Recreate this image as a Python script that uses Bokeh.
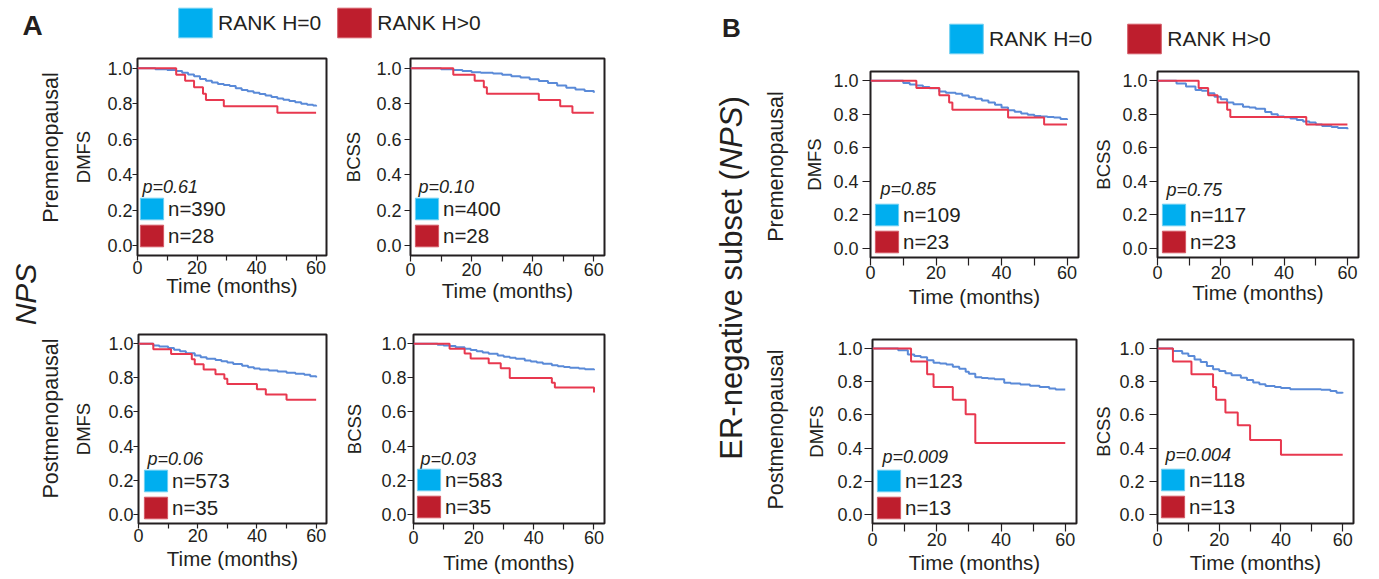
from math import pi
from bokeh.plotting import figure
from bokeh.models import (Range1d, FixedTicker, PrintfTickFormatter, Legend, LegendItem,
                          Label, ColumnDataSource)
from bokeh.layouts import row, column
from bokeh.embed import file_html
from bokeh.resources import INLINE

# ---------------- data ----------------
X_TICKS = [0, 20, 40, 60]
X_MINOR = [10, 30, 50]
Y_TICKS = [0.0, 0.2, 0.4, 0.6, 0.8, 1.0]
GROUPS = ["RANK H=0", "RANK H>0"]

# A: NPS, premenopausal, DMFS
A_PRE_DMFS_T0 = [0, 6, 10, 13, 15, 17, 19, 21, 23, 25, 27, 29, 31, 33, 35, 37, 39, 41, 43, 45, 47, 49, 51, 53, 55, 57, 59, 60]
A_PRE_DMFS_S0 = [1, .995, .99, .985, .975, .965, .955, .94, .93, .92, .912, .905, .9, .888, .878, .87, .862, .855, .846, .838, .83, .822, .815, .808, .8, .795, .79, .785]
A_PRE_DMFS_T1 = [0, 13, 16, 19, 22, 23, 29, 47, 60]
A_PRE_DMFS_S1 = [1, .964, .929, .893, .857, .821, .786, .75, .75]
# A: NPS, premenopausal, BCSS
A_PRE_BCSS_T0 = [0, 10, 14, 17, 20, 23, 27, 30, 33, 36, 39, 42, 45, 48, 51, 54, 57, 60]
A_PRE_BCSS_S0 = [1, .995, .99, .985, .978, .975, .97, .963, .955, .948, .938, .928, .917, .903, .89, .881, .872, .862]
A_PRE_BCSS_T1 = [0, 14, 21, 24, 25, 42, 49, 53, 60]
A_PRE_BCSS_S1 = [1, .964, .929, .893, .857, .821, .786, .75, .75]
# A: NPS, postmenopausal, DMFS
A_POST_DMFS_T0 = [0, 5, 7, 10, 12, 14, 16, 19, 21, 23, 26, 28, 30, 32, 35, 37, 39, 41, 44, 47, 50, 53, 56, 58, 60]
A_POST_DMFS_S0 = [1, .99, .985, .975, .965, .956, .945, .931, .922, .913, .905, .898, .89, .882, .872, .863, .856, .85, .844, .838, .83, .824, .818, .81, .802]
A_POST_DMFS_T1 = [0, 5, 11, 18, 19, 22, 26, 29, 30, 40, 43, 50, 60]
A_POST_DMFS_S1 = [1, .968, .94, .91, .88, .85, .822, .795, .764, .734, .702, .672, .672]
# A: NPS, postmenopausal, BCSS
A_POST_BCSS_T0 = [0, 8, 10, 12, 14, 17, 19, 21, 23, 25, 28, 30, 32, 34, 37, 39, 41, 43, 46, 48, 50, 52, 55, 57, 60]
A_POST_BCSS_S0 = [1, .995, .99, .988, .98, .972, .964, .956, .95, .942, .932, .925, .918, .912, .903, .896, .89, .883, .875, .869, .864, .86, .855, .851, .845]
A_POST_BCSS_T1 = [0, 12, 17, 19, 25, 29, 32, 46, 47, 60]
A_POST_BCSS_S1 = [1, .971, .943, .914, .886, .857, .8, .771, .743, .714]
# B: ER-negative, premenopausal, DMFS
B_PRE_DMFS_T0 = [0, 10, 12, 14, 16, 18, 21, 23, 26, 28, 30, 32, 34, 36, 38, 40, 42, 44, 46, 48, 50, 52, 54, 56, 58, 60]
B_PRE_DMFS_S0 = [1, .986, .978, .971, .963, .955, .935, .928, .922, .912, .902, .892, .882, .87, .857, .84, .824, .815, .804, .797, .79, .787, .784, .78, .772, .765]
B_PRE_DMFS_T1 = [0, 14, 21, 24, 25, 42, 53, 60]
B_PRE_DMFS_S1 = [1, .957, .913, .870, .826, .78, .739, .739]
# B: ER-negative, premenopausal, BCSS
B_PRE_BCSS_T0 = [0, 6, 9, 12, 14, 16, 18, 20, 22, 24, 27, 29, 31, 34, 36, 38, 40, 42, 44, 46, 48, 50, 52, 55, 57, 60]
B_PRE_BCSS_S0 = [1, .984, .965, .945, .94, .925, .905, .89, .87, .86, .845, .84, .833, .813, .8, .787, .782, .774, .765, .756, .75, .738, .73, .724, .718, .711]
B_PRE_BCSS_T1 = [0, 13, 16, 19, 22, 23, 47, 60]
B_PRE_BCSS_S1 = [1, .957, .913, .870, .826, .783, .739, .739]
# B: ER-negative, postmenopausal, DMFS
B_POST_DMFS_T0 = [0, 8, 11, 13, 15, 17, 19, 21, 23, 25, 27, 29, 30, 32, 34, 36, 38, 41, 43, 46, 49, 52, 55, 57, 60]
B_POST_DMFS_S0 = [1, .99, .964, .955, .948, .93, .914, .91, .904, .89, .878, .86, .848, .828, .823, .82, .815, .794, .79, .784, .776, .768, .76, .754, .754]
B_POST_DMFS_T1 = [0, 12, 17, 19, 25, 29, 32, 60]
B_POST_DMFS_S1 = [1, .923, .846, .769, .692, .604, .43, .43]
# B: ER-negative, postmenopausal, BCSS
B_POST_BCSS_T0 = [0, 5, 8, 10, 12, 14, 16, 18, 20, 22, 24, 27, 29, 31, 33, 35, 38, 40, 43, 48, 53, 56, 58, 60]
B_POST_BCSS_S0 = [1, .986, .97, .955, .935, .92, .895, .875, .865, .852, .84, .825, .81, .795, .785, .775, .768, .762, .755, .755, .752, .744, .734, .73]
B_POST_BCSS_T1 = [0, 5, 11, 18, 19, 22, 26, 30, 40, 60]
B_POST_BCSS_S1 = [1, .923, .846, .769, .692, .615, .538, .449, .359, .359]

N_H0 = [390, 400, 573, 583, 109, 117, 123, 118]
N_H1 = [28, 28, 35, 35, 23, 23, 13, 13]
P_VALUES = ["0.61", "0.10", "0.06", "0.03", "0.85", "0.75", "0.009", "0.004"]
ENDPOINTS = ["DMFS", "BCSS", "DMFS", "BCSS", "DMFS", "BCSS", "DMFS", "BCSS"]

# ---------------- styling ----------------
FONT = "Liberation Sans"
TXT = "#231f20"
BLUE_LINE = "#5a8ad8"
RED_LINE = "#e8384f"
BLUE_BOX = "#00aeef"
RED_BOX = "#be1e2d"
NAN = float("nan")


def key_boxes(p):
    # legend swatches only (never visible in the plot area)
    kb = p.quad(left=[NAN], right=[NAN], top=[NAN], bottom=[NAN],
                fill_color=BLUE_BOX, line_color="#6fcff2", line_width=1)
    kr = p.quad(left=[NAN], right=[NAN], top=[NAN], bottom=[NAN],
                fill_color=RED_BOX, line_color="#d45a66", line_width=1)
    return kb, kr


def km_panel(t0, s0, t1, s1, ylabel, n0, n1, pval, w, h, bl, br, bt, bb,
             tick_out, ytick_st, ylab_st, xtick_st, xlab_st, leg_loc, p_pos):
    p = figure(width=w, height=h, x_range=Range1d(0, 63.5), y_range=Range1d(-0.055, 1.055),
               output_backend="svg", toolbar_location=None, tools="",
               min_border_left=bl, min_border_right=br, min_border_top=bt, min_border_bottom=bb)
    p.grid.visible = False
    p.outline_line_color = TXT
    p.outline_line_width = 2
    p.background_fill_color = "white"
    p.border_fill_color = "white"

    xa = p.xaxis[0]
    xa.ticker = FixedTicker(ticks=X_TICKS, minor_ticks=X_MINOR)
    xa.axis_label = "Time (months)"
    ya = p.yaxis[0]
    ya.ticker = FixedTicker(ticks=Y_TICKS)
    ya.formatter = PrintfTickFormatter(format="%.1f")
    ya.axis_label = ylabel
    for ax in (xa, ya):
        ax.axis_line_color = None
        ax.major_tick_in = 0
        ax.major_tick_out = tick_out
        ax.minor_tick_in = 0
        ax.minor_tick_out = tick_out
        ax.major_tick_line_color = TXT
        ax.minor_tick_line_color = TXT
        ax.major_tick_line_width = 1.2
        ax.minor_tick_line_width = 1.2
        ax.major_label_text_font = FONT
        ax.major_label_text_font_size = "18px"
        ax.major_label_text_color = TXT
        ax.axis_label_text_font = FONT
        ax.axis_label_text_font_style = "normal"
        ax.axis_label_text_color = TXT
    ya.minor_tick_line_color = None
    xa.axis_label_text_font_size = "20.5px"
    ya.axis_label_text_font_size = "18.5px"
    ya.major_label_standoff = ytick_st
    ya.axis_label_standoff = ylab_st
    xa.major_label_standoff = xtick_st
    xa.axis_label_standoff = xlab_st

    p.step(x="t", y="s", source=ColumnDataSource(dict(t=t0, s=s0)), mode="after",
           line_color=BLUE_LINE, line_width=2)
    p.step(x="t", y="s", source=ColumnDataSource(dict(t=t1, s=s1)), mode="after",
           line_color=RED_LINE, line_width=2)

    kb, kr = key_boxes(p)
    leg = Legend(items=[LegendItem(label="n=%d" % n0, renderers=[kb]),
                        LegendItem(label="n=%d" % n1, renderers=[kr])],
                 location=leg_loc,
                 label_text_font=FONT, label_text_font_size="20.5px", label_text_color=TXT,
                 glyph_width=29, glyph_height=27, label_height=27, label_width=20,
                 label_standoff=2, spacing=-1, padding=0, margin=0,
                 border_line_color=None, background_fill_alpha=0)
    p.add_layout(leg)
    p.add_layout(Label(x=p_pos[0], y=p_pos[1], x_units="screen", y_units="screen",
                       text="p=" + pval, text_font=FONT, text_font_size="18px",
                       text_font_style="italic", text_color=TXT,
                       text_align="left", text_baseline="alphabetic"))
    return p


def blank(w, h):
    p = figure(width=w, height=h, x_range=Range1d(0, w), y_range=Range1d(0, h),
               output_backend="svg", toolbar_location=None, tools="", min_border=0,
               x_axis_location=None, y_axis_location=None)
    p.grid.visible = False
    p.outline_line_color = None
    p.background_fill_color = "white"
    p.border_fill_color = "white"
    return p


def lab(p, x, y, text, size, angle=0.0, style="normal", align="center"):
    p.add_layout(Label(x=x, y=y, x_units="screen", y_units="screen", text=text, angle=angle,
                       text_font=FONT, text_font_size=size, text_font_style=style,
                       text_color=TXT, text_align=align, text_baseline="middle"))


def header(w, h, loc, spacing):
    p = blank(w, h)
    kb, kr = key_boxes(p)
    leg = Legend(items=[LegendItem(label=GROUPS[0], renderers=[kb]),
                        LegendItem(label=GROUPS[1], renderers=[kr])],
                 location=loc, orientation="horizontal",
                 label_text_font=FONT, label_text_font_size="21px", label_text_color=TXT,
                 glyph_width=42, glyph_height=37, label_height=37, label_width=20,
                 label_standoff=2, spacing=spacing, padding=0, margin=0,
                 border_line_color=None, background_fill_alpha=0)
    p.add_layout(leg)
    return p


# ---------------- panels ----------------
# args: w, h, border l/r/t/b, tick length, y tick standoff, y label standoff,
#       x tick standoff, x label standoff, key location, p-value position
A1 = km_panel(A_PRE_DMFS_T0, A_PRE_DMFS_S0, A_PRE_DMFS_T1, A_PRE_DMFS_S1, ENDPOINTS[0], N_H0[0], N_H1[0], P_VALUES[0],
              270, 259, 65, 14, 10, 52, 5, 0, 10, 0, -3, (0, 6), (5, 69))
A2 = km_panel(A_PRE_BCSS_T0, A_PRE_BCSS_S0, A_PRE_BCSS_T1, A_PRE_BCSS_S1, ENDPOINTS[1], N_H0[1], N_H1[1], P_VALUES[1],
              310, 259, 67, 46, 9, 50, 6, 3, 9, 1, 0, (2, 6), (8, 69))
A3 = km_panel(A_POST_DMFS_T0, A_POST_DMFS_S0, A_POST_DMFS_T1, A_POST_DMFS_S1, ENDPOINTS[2], N_H0[2], N_H1[2], P_VALUES[2],
              270, 272, 66, 14, 27, 52, 5, 0, 11, 0, 2, (3, 2), (9, 65))
A4 = km_panel(A_POST_BCSS_T0, A_POST_BCSS_S0, A_POST_BCSS_T1, A_POST_BCSS_S1, ENDPOINTS[3], N_H0[3], N_H1[3], P_VALUES[3],
              310, 272, 73, 46, 26, 56, 6, 1, 13, 1, 4, (1, 3), (7, 65))
B1 = km_panel(B_PRE_DMFS_T0, B_PRE_DMFS_S0, B_PRE_DMFS_T1, B_PRE_DMFS_S1, ENDPOINTS[4], N_H0[4], N_H1[4], P_VALUES[4],
              295, 255, 75, 12, 11, 56, 8, 4, 5, 0, 3, (2, 2), (10, 69))
B2 = km_panel(B_PRE_BCSS_T0, B_PRE_BCSS_S0, B_PRE_BCSS_T1, B_PRE_BCSS_S1, ENDPOINTS[5], N_H0[5], N_H1[5], P_VALUES[5],
              280, 255, 63, 12, 13, 54, 8, 2, 5, 0, -1, (2, 2), (9, 68))
B3 = km_panel(B_POST_DMFS_T0, B_POST_DMFS_S0, B_POST_DMFS_T1, B_POST_DMFS_S1, ENDPOINTS[6], N_H0[6], N_H1[6], P_VALUES[6],
              295, 266, 77, 14, 25, 56, 8, 2, 7, 1, 2, (2, 2), (10, 67))
B4 = km_panel(B_POST_BCSS_T0, B_POST_BCSS_S0, B_POST_BCSS_T1, B_POST_BCSS_S1, ENDPOINTS[7], N_H0[7], N_H1[7], P_VALUES[7],
              280, 266, 62, 17, 26, 56, 8, 5, 2, 1, 2, (1, 3), (8, 69))

# ---------------- side strips with panel / row labels ----------------
H = 579
stripA = blank(70, H)
lab(stripA, 32, H - 25, "A", "28px", style="bold")
lab(stripA, 25, H - 294, "NPS", "30px", angle=pi / 2, style="italic")
lab(stripA, 50, H - 147, "Premenopausal", "21.5px", angle=pi / 2)
lab(stripA, 50, H - 418, "Postmenopausal", "21.5px", angle=pi / 2)

stripB = blank(145, H)
lab(stripB, 81, H - 27, "B", "26px", style="bold")
lab(stripB, 81, H - 459.2, "ER-negative subset (", "31px", angle=pi / 2, align="left")
lab(stripB, 81, H - 169.8, "NPS", "31px", angle=pi / 2, style="italic", align="left")
lab(stripB, 81, H - 106.1, ")", "31px", angle=pi / 2, align="left")
lab(stripB, 125, H - 166, "Premenopausal", "21.5px", angle=pi / 2)
lab(stripB, 125, H - 429, "Postmenopausal", "21.5px", angle=pi / 2)

headA = header(580, 48, (104, 7), 12)
headB = header(575, 58, (150, 1), 31)

colA = column(headA, row(A1, A2), row(A3, A4))
colB = column(headB, row(B1, B2), row(B3, B4))
layout = row(stripA, colA, stripB, colB)

open("out.html", "w").write(file_html(layout, INLINE))
